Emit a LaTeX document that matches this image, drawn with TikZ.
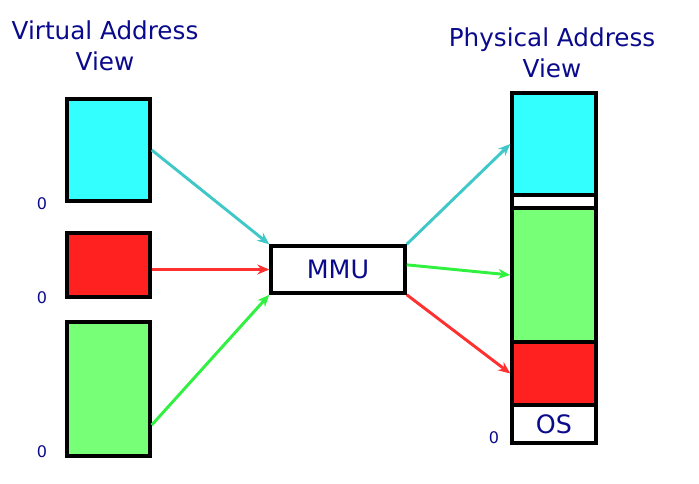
\documentclass[tikz,border=0pt]{standalone}
\usepackage{fontspec}
\setmainfont{DejaVu Sans}
\usetikzlibrary{arrows.meta}

\definecolor{txtblue}{RGB}{10,10,140}
\definecolor{boxcyan}{RGB}{51,255,255}
\definecolor{boxred}{RGB}{255,32,32}
\definecolor{boxgreen}{RGB}{119,255,119}
\definecolor{arrcyan}{RGB}{64,200,200}
\definecolor{arrred}{RGB}{255,48,48}
\definecolor{arrgreen}{RGB}{48,240,64}

\begin{document}
\begin{tikzpicture}[x=0.75pt,y=-0.75pt]

        \useasboundingbox (0,0) rectangle (699,484);

        % titles and zero marks
        \begin{scope}[every node/.style={text=txtblue, align=center, font=\fontsize{18.5}{23.5}\selectfont}]
          \node (vtitle) at (105,46)  {Virtual Address\\View};
          \node (ptitle) at (552,53)  {Physical Address\\View};
        \end{scope}

        \begin{scope}[every node/.style={text=txtblue, font=\fontsize{12}{14}\selectfont}]
          \node (z1) at (42,204) {0};
          \node (z2) at (42,298) {0};
          \node (z3) at (42,452) {0};
          \node (z4) at (494,438) {0};
        \end{scope}

        % boxes
        \begin{scope}[every node/.style={rectangle, draw, line width=2.6pt, inner sep=0pt, minimum width=62.25pt}]
          \node[fill=boxcyan,  minimum height=76.5pt]  (vcyan)  at (108.5,150) {};
          \node[fill=boxred,   minimum height=48pt]    (vred)   at (108.5,265) {};
          \node[fill=boxgreen, minimum height=100.5pt] (vgreen) at (108.5,389) {};

          \node[fill=white, text=txtblue, minimum width=100.5pt, minimum height=35.25pt,
                font=\fontsize{19}{21}\selectfont] (mmu) at (338,269.5) {MMU};

          \node[fill=boxcyan,  minimum width=63pt, minimum height=76.5pt]  (pcyan)  at (554,144)   {};
          \node[fill=white,    minimum width=63pt, minimum height=9.75pt]  (pfree)  at (554,201.5) {};
          \node[fill=boxgreen, minimum width=63pt, minimum height=100.5pt] (pgreen) at (554,275)   {};
          \node[fill=boxred,   minimum width=63pt, minimum height=47.25pt] (pred)   at (554,373.5) {};
          \node[fill=white, text=txtblue, minimum width=63pt, minimum height=28.5pt,
                font=\fontsize{19}{21}\selectfont] (os) at (554,424) {OS};
        \end{scope}

        % mappings
        \begin{scope}[every edge/.style={draw, line width=2.2pt, -{Stealth[length=9pt,width=7.5pt]}}]
          \path (vcyan.east)                edge[arrcyan]  (mmu.north west);
          \path (vred.east |- mmu.west)     edge[arrred]   (mmu.west);
          \path ([yshift=-27pt]vgreen.east) edge[arrgreen] (mmu.south west);
          \path (mmu.north east)            edge[arrcyan]  (pcyan.west);
          \path ([yshift=3.5pt]mmu.east)    edge[arrgreen] (pgreen.west);
          \path (mmu.south east)            edge[arrred]   (pred.west);
        \end{scope}

      \end{tikzpicture}
\end{document}
